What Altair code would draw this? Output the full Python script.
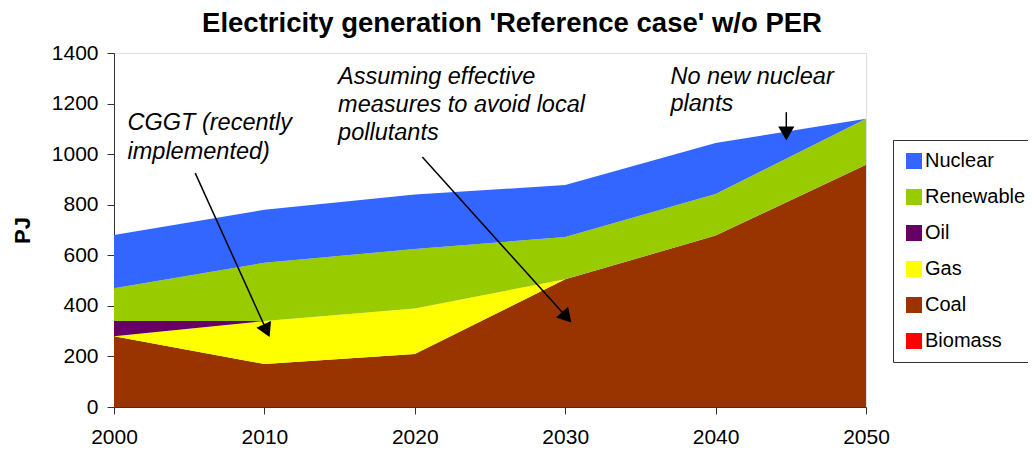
import altair as alt
import pandas as pd

years = [2000, 2010, 2020, 2030, 2040, 2050]
biomass = [0, 0, 0, 0, 0, 0]
coal = [280, 170, 210, 505, 678, 958]
gas = [0, 170, 180, 0, 0, 0]
oil = [60, 0, 0, 0, 0, 0]
renewable = [130, 230, 235, 167, 164, 182]
nuclear = [210, 210, 215, 206, 202, 0]

series_names = ["Nuclear", "Renewable", "Oil", "Gas", "Coal", "Biomass"]
series_colors = ["#3366FF", "#99CC00", "#660066", "#FFFF00", "#993300", "#FF0000"]
stack_order = {"Biomass": 0, "Coal": 1, "Gas": 2, "Oil": 3, "Renewable": 4, "Nuclear": 5}
values = {"Biomass": biomass, "Coal": coal, "Gas": gas, "Oil": oil,
          "Renewable": renewable, "Nuclear": nuclear}

rows = []
for name, vals in values.items():
    for yr, v in zip(years, vals):
        rows.append({"year": yr, "series": name, "value": v, "ord": stack_order[name]})
df = pd.DataFrame(rows)

# annotations
note_x = [2000.9, 2000.9, 2014.9, 2014.9, 2014.9, 2037.0, 2037.0]
note_y = [1123, 1008, 1305, 1194, 1083, 1305, 1197]
note_text = ["CGGT (recently", "implemented)", "Assuming effective",
             "measures to avoid local", "pollutants", "No new nuclear", "plants"]
notes = pd.DataFrame({"x": note_x, "y": note_y, "t": note_text})

arrow_x1 = [2005.4, 2020.5, 2044.7]
arrow_y1 = [925, 989, 1166]
arrow_x2 = [2010.15, 2030.1, 2044.7]
arrow_y2 = [302, 355, 1082]
arrow_angle = [155, 138, 180]
arrows = pd.DataFrame({"x": arrow_x1, "y": arrow_y1, "x2": arrow_x2,
                       "y2": arrow_y2, "a": arrow_angle})

xs = alt.Scale(domain=[2000, 2050], nice=False, zero=False)
ys = alt.Scale(domain=[0, 1400], nice=False)
FONT = "Liberation Sans"

area = alt.Chart(df).mark_area(opacity=1, interpolate="linear").encode(
    x=alt.X("year:Q", scale=xs,
            axis=alt.Axis(values=years, format="d", title=None, grid=False,
                          labelFontSize=21, labelPadding=12, tickSize=7,
                          labelFlush=False,
                          domainColor="#333333", tickColor="#333333",
                          labelColor="#000000", labelFont=FONT)),
    y=alt.Y("value:Q", stack="zero", scale=ys,
            axis=alt.Axis(values=list(range(0, 1401, 200)), format="d", title="PJ",
                          grid=False, labelFontSize=21, labelPadding=9, tickSize=7,
                          domainColor="#333333", tickColor="#333333",
                          labelColor="#000000", labelFont=FONT,
                          titleFontSize=22, titleFont=FONT,
                          titleFontWeight="bold", titlePadding=17, titleColor="#000000")),
    color=alt.Color("series:N",
                    scale=alt.Scale(domain=series_names, range=series_colors),
                    legend=alt.Legend(title=None, orient="none", legendX=779, legendY=87,
                                      symbolType="square", symbolSize=256,
                                      symbolStrokeWidth=0, labelFontSize=20,
                                      labelFont=FONT, labelColor="#000000",
                                      labelOffset=1, rowPadding=16,
                                      strokeColor="#333333", padding=11,
                                      fillColor="white")),
    order=alt.Order("ord:Q", sort="ascending"),
)

text = alt.Chart(notes).mark_text(align="left", baseline="middle", fontSize=23.5,
                                  fontStyle="italic", font=FONT,
                                  color="#000000").encode(
    x=alt.X("x:Q", scale=xs), y=alt.Y("y:Q", scale=ys), text="t:N")

rules = alt.Chart(arrows).mark_rule(color="#000000", strokeWidth=1.5).encode(
    x=alt.X("x:Q", scale=xs), y=alt.Y("y:Q", scale=ys), x2="x2:Q", y2="y2:Q")

heads = alt.Chart(arrows).mark_point(shape="triangle-up", filled=True, color="#000000",
                                     opacity=1, size=260).encode(
    x=alt.X("x2:Q", scale=xs), y=alt.Y("y2:Q", scale=ys), angle=alt.Angle("a:Q", scale=None))

chart = alt.layer(area, text, rules, heads).properties(
    width=752, height=354,
    autosize=alt.AutoSizeParams(type="none"),
    padding={"left": 106, "top": 45, "right": 162, "bottom": 43},
    title=alt.TitleParams("Electricity generation 'Reference case' w/o PER",
                          fontSize=27.5, font=FONT, fontWeight="bold",
                          anchor="middle", dx=22, offset=5, color="#000000"),
).configure_view(stroke="#888888", strokeWidth=1.5).configure(background="white")

chart.save("out.html", embed_options={"renderer": "svg", "actions": False})
